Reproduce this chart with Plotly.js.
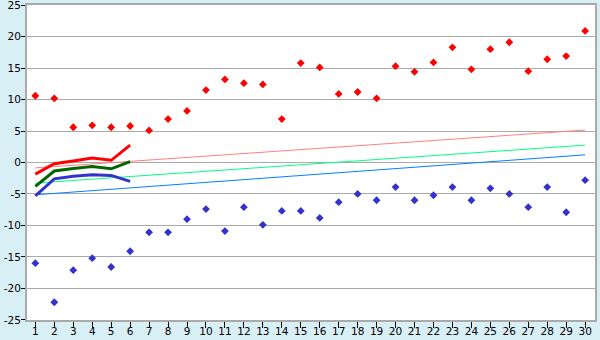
<!DOCTYPE html>
<html>
<head>
<meta charset="utf-8">
<script src="https://cdn.plot.ly/plotly-3.0.1.min.js"></script>
<style>html,body{margin:0;padding:0;background:#d9eff6;}</style>
</head>
<body>
<div id="chart" style="width:600px;height:340px;"></div>
<script>
const days = [];
for (let i = 1; i <= 30; i++) days.push(i);
const yTicks = [-25,-20,-15,-10,-5,0,5,10,15,20,25];
const highPts = [10.6,10.2,5.6,5.9,5.6,5.8,5.1,6.9,8.2,11.5,13.2,12.6,12.4,6.9,15.8,15.1,10.9,11.2,10.2,15.3,14.4,15.9,18.3,14.8,18.0,19.1,14.5,16.4,16.9,20.9];
const lowPts = [-16.0,-22.2,-17.1,-15.2,-16.6,-14.1,-11.1,-11.1,-9.0,-7.4,-10.9,-7.1,-9.9,-7.7,-7.7,-8.8,-6.3,-5.0,-6.0,-3.9,-6.0,-5.2,-3.9,-6.0,-4.1,-5.0,-7.1,-3.9,-7.9,-2.8];
const firstDays = [1,2,3,4,5,6];
const redLine = [-1.85,-0.2,0.25,0.7,0.35,2.75];
const greenLine = [-3.8,-1.35,-0.95,-0.65,-1.0,0.15];
const blueLine = [-5.3,-2.6,-2.2,-1.95,-2.05,-3.0];
const trendX = [1,30];
const pinkTrend = [-0.85,5.15];
const greenTrend = [-3.27,2.76];
const blueTrend = [-5.13,1.22];

const traces = [
  {x: trendX, y: pinkTrend, mode: 'lines', line: {color: '#ff8080', width: 1}},
  {x: trendX, y: greenTrend, mode: 'lines', line: {color: '#00ff80', width: 1}},
  {x: trendX, y: blueTrend, mode: 'lines', line: {color: '#0080ff', width: 1}},
  {x: firstDays, y: redLine, mode: 'lines', line: {color: '#ff0000', width: 3}},
  {x: firstDays, y: greenLine, mode: 'lines', line: {color: '#006600', width: 3}},
  {x: firstDays, y: blueLine, mode: 'lines', line: {color: '#3333cc', width: 3}},
  {x: days, y: highPts, mode: 'markers', marker: {symbol: 'diamond', size: 6, color: '#ff0000'}},
  {x: days, y: lowPts, mode: 'markers', marker: {symbol: 'diamond', size: 6, color: '#3333cc'}}
];

const layout = {
  width: 600, height: 340,
  paper_bgcolor: '#d9eff6',
  plot_bgcolor: '#ffffff',
  showlegend: false,
  margin: {l: 27, r: 5, t: 5, b: 20},
  font: {family: 'DejaVu Sans', size: 10.5, color: '#000000'},
  xaxis: {
    range: [0.56, 30.52],
    tickmode: 'array', tickvals: days, ticktext: days.map(String),
    showgrid: false, zeroline: false,
    showline: true, linecolor: '#aaaaaa', linewidth: 2, mirror: true,
    ticks: 'outside', ticklen: 6, tickcolor: '#000000', tickwidth: 1,
    ticklabelstandoff: -6, ticklabeloverflow: 'allow'
  },
  yaxis: {
    range: [-25.02, 25.02],
    tickmode: 'array', tickvals: yTicks, ticktext: yTicks.map(String),
    showgrid: true, gridcolor: '#aaaaaa', gridwidth: 1, zeroline: false,
    showline: true, linecolor: '#aaaaaa', linewidth: 2, mirror: true,
    ticks: 'outside', ticklen: 4, tickcolor: '#000000', tickwidth: 1,
    ticklabelstandoff: -2, ticklabeloverflow: 'allow'
  }
};

Plotly.newPlot('chart', traces, layout, {displayModeBar: false, staticPlot: true});
</script>
</body>
</html>
